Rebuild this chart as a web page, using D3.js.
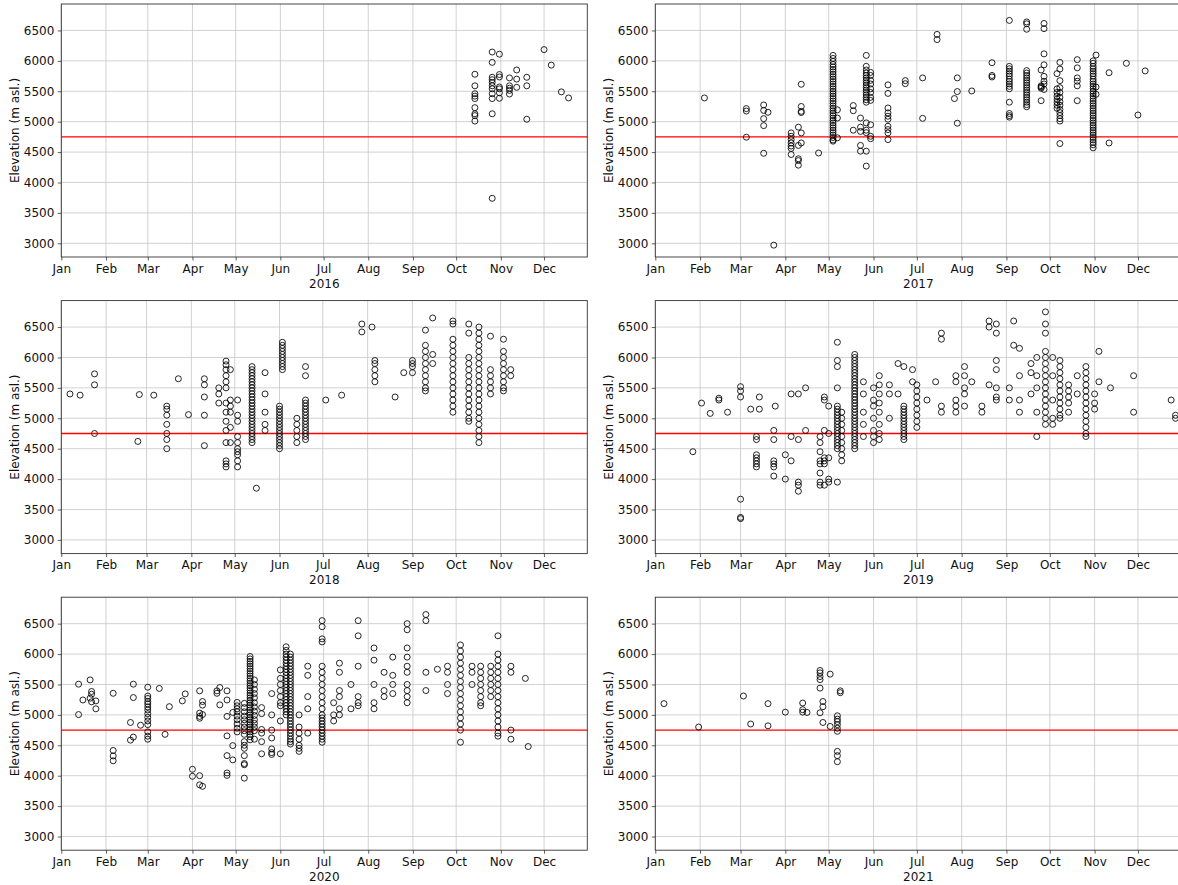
<!DOCTYPE html>
<html>
<head>
<meta charset="utf-8">
<script src="https://cdn.jsdelivr.net/npm/d3@7"></script>
<style>
  body { margin: 0; background: #fff; }
  svg { display: block; font-family: "DejaVu Sans", sans-serif; }
</style>
</head>
<body>
<div class="container"></div>
<script>
// observations per year: [month-day, [elevations in m asl.]]
const obs2016 = [
  ["10-14", [5780, 5590, 5460, 5420, 5380, 5230, 5130, 5100, 5010]],
  ["10-26", [6145, 5975, 5730, 5690, 5645, 5590, 5540, 5460, 5380, 5130, 3740]],
  ["10-31", [6110, 5775, 5735, 5570, 5540, 5475, 5385]],
  ["11-07", [5720, 5590, 5550, 5515, 5455]],
  ["11-12", [5850, 5700, 5565]],
  ["11-19", [5730, 5590, 5040]],
  ["12-01", [6185]],
  ["12-06", [5930]],
  ["12-13", [5490]],
  ["12-18", [5390]]
];

const obs2017 = [
  ["02-04", [5390]],
  ["03-05", [5215, 5175, 4745]],
  ["03-17", [5275, 5185, 5050, 4935, 4480]],
  ["03-20", [5155]],
  ["03-24", [2970]],
  ["04-05", [4815, 4760, 4705, 4650, 4600, 4560, 4460]],
  ["04-10", [4910, 4610, 4390, 4360, 4285]],
  ["04-12", [5615, 5250, 5170, 5150, 4815, 4650]],
  ["04-24", [4485]],
  ["05-04", [6090, 6040, 5990, 5940, 5900, 5860, 5820, 5780, 5740, 5700, 5660, 5620, 5580, 5540, 5500, 5460, 5420, 5380, 5340, 5300, 5260, 5220, 5180, 5140, 5100, 5060, 5020, 4980, 4940, 4900, 4860, 4820, 4780, 4740, 4700, 4680]],
  ["05-07", [5195, 5060, 4735]],
  ["05-18", [5265, 5180, 4860]],
  ["05-23", [5060, 4910, 4840, 4610, 4515]],
  ["05-27", [6090, 5910, 5850, 5800, 5760, 5720, 5680, 5640, 5600, 5560, 5520, 5480, 5440, 5400, 5360, 5320, 4980, 4860, 4820, 4515, 4270]],
  ["05-30", [5810, 5760, 5680, 5620, 5540, 5480, 5400, 5350, 4950, 4760, 4720]],
  ["06-11", [5605, 5465, 5225, 5145, 5090, 5040, 4925, 4870, 4815, 4705]],
  ["06-23", [5675, 5625]],
  ["07-05", [5720, 5055]],
  ["07-15", [6435, 6350]],
  ["07-27", [5380]],
  ["07-29", [5720, 5495, 4975]],
  ["08-08", [5505]],
  ["08-22", [5970, 5760, 5735]],
  ["09-03", [6665, 5910, 5870, 5830, 5790, 5750, 5700, 5660, 5620, 5580, 5540, 5320, 5135, 5100, 5075]],
  ["09-15", [6640, 6610, 6520, 5840, 5800, 5760, 5720, 5680, 5640, 5600, 5560, 5520, 5480, 5440, 5400, 5360, 5320, 5280, 5245]],
  ["09-25", [5850, 5590, 5570, 5550, 5345]],
  ["09-27", [6615, 6530, 6115, 5935, 5745, 5665, 5620, 5530]],
  ["10-06", [5790, 5540, 5480, 5420, 5370, 5320, 5270, 5220]],
  ["10-08", [5975, 5865, 5675, 5560, 5480, 5400, 5330, 5270, 5200, 5150, 5100, 5050, 5010, 4640]],
  ["10-20", [6020, 5885, 5720, 5665, 5590, 5345]],
  ["10-31", [6000, 5960, 5910, 5870, 5830, 5790, 5750, 5700, 5660, 5620, 5580, 5540, 5500, 5460, 5420, 5380, 5340, 5300, 5260, 5220, 5180, 5140, 5100, 5060, 5020, 4980, 4940, 4900, 4860, 4820, 4780, 4740, 4700, 4660, 4620, 4570]],
  ["11-02", [6095, 5570, 5450]],
  ["11-11", [5805, 4650]],
  ["11-23", [5960]],
  ["12-01", [5110]],
  ["12-06", [5835]]
];

const obs2018 = [
  ["01-07", [5400]],
  ["01-14", [5380]],
  ["01-24", [5730, 5550, 4750]],
  ["02-23", [4620]],
  ["02-24", [5390]],
  ["03-06", [5380]],
  ["03-15", [5200, 5150, 5050, 4900, 4750, 4650, 4500]],
  ["03-23", [5650]],
  ["03-30", [5060]],
  ["04-10", [5650, 5550, 5350, 5050, 4550]],
  ["04-20", [5500, 5400, 5250]],
  ["04-25", [5940, 5880, 5800, 5700, 5600, 5500, 5250, 5100, 4950, 4800, 4600, 4300, 4250, 4200]],
  ["04-28", [5800, 5300, 5200, 5100, 4850, 4600]],
  ["05-03", [5300, 5050, 4950, 4700, 4600, 4500, 4450, 4400, 4300, 4200]],
  ["05-13", [5850, 5800, 5750, 5700, 5650, 5600, 5550, 5500, 5450, 5400, 5350, 5300, 5250, 5200, 5150, 5100, 5050, 5000, 4950, 4900, 4850, 4800, 4750, 4700, 4650, 4600]],
  ["05-16", [3850]],
  ["05-22", [5750, 5400, 5100, 4900, 4800]],
  ["06-01", [5200, 5150, 5100, 5050, 5000, 4950, 4900, 4850, 4800, 4750, 4700, 4650, 4600, 4550, 4500]],
  ["06-03", [6250, 6200, 6150, 6100, 6050, 6000, 5950, 5900, 5850, 5800]],
  ["06-13", [5000, 4900, 4800, 4700, 4600]],
  ["06-19", [5850, 5700, 5300, 5250, 5200, 5150, 5100, 5050, 5000, 4950, 4900, 4850, 4800, 4750, 4700, 4650]],
  ["07-03", [5300]],
  ["07-14", [5380]],
  ["07-28", [6550, 6420]],
  ["08-04", [6500]],
  ["08-06", [5950, 5900, 5800, 5700, 5600]],
  ["08-20", [5350]],
  ["08-26", [5750]],
  ["09-01", [5950, 5900, 5850, 5750]],
  ["09-10", [6450, 6200, 6100, 6000, 5900, 5800, 5700, 5600, 5500, 5450]],
  ["09-15", [6650, 6050, 5900]],
  ["09-29", [6600, 6550, 6300, 6200, 6100, 6000, 5900, 5800, 5700, 5600, 5500, 5400, 5300, 5200, 5100]],
  ["10-10", [6550, 6400, 6000, 5900, 5800, 5700, 5600, 5500, 5400, 5300, 5200, 5100, 5000, 4950]],
  ["10-17", [6500, 6400, 6300, 6200, 6100, 6000, 5900, 5800, 5700, 5600, 5500, 5400, 5300, 5200, 5100, 5000, 4900, 4800, 4700, 4600]],
  ["10-25", [6350, 5800, 5700, 5600, 5500, 5400]],
  ["11-03", [6300, 6100, 6000, 5900, 5800, 5700, 5600, 5500, 5450]],
  ["11-08", [5800, 5700]]
];

const obs2019 = [
  ["01-27", [4450]],
  ["02-02", [5250]],
  ["02-08", [5080]],
  ["02-14", [5330, 5300]],
  ["02-20", [5100]],
  ["03-01", [5520, 5450, 5350, 3670, 3370, 3350]],
  ["03-08", [5150]],
  ["03-12", [4700, 4650, 4400, 4350, 4300, 4250, 4200]],
  ["03-14", [5350, 5150]],
  ["03-24", [4800, 4650, 4300, 4250, 4200, 4050]],
  ["03-25", [5200]],
  ["04-01", [4400, 4000]],
  ["04-05", [5400, 4700, 4300]],
  ["04-10", [5400, 4650, 3950, 3900, 3800]],
  ["04-15", [5500, 4800]],
  ["04-25", [4700, 4600, 4450, 4300, 4250, 4100, 3950, 3900]],
  ["04-28", [5350, 5300, 4800, 4350, 4300, 4250, 3900]],
  ["05-01", [5200, 4750, 4350, 4000, 3950]],
  ["05-07", [6250, 5950, 5850, 5500, 5200, 5150, 5100, 5050, 5000, 4950, 4900, 4850, 4800, 4750, 4700, 4650, 4600, 4550, 4500, 3950]],
  ["05-10", [5100, 5000, 4900, 4800, 4700, 4600, 4500, 4400, 4300]],
  ["05-19", [6050, 6000, 5950, 5900, 5850, 5800, 5750, 5700, 5650, 5600, 5550, 5500, 5450, 5400, 5350, 5300, 5250, 5200, 5150, 5100, 5050, 5000, 4950, 4900, 4850, 4800, 4750, 4700, 4650, 4600, 4550, 4500]],
  ["05-25", [5600, 5400, 5100, 4900, 4700]],
  ["06-01", [5500, 5300, 5200, 5000, 4800, 4700, 4600]],
  ["06-05", [5700, 5550, 5400, 5250, 5100, 4900, 4750, 4650]],
  ["06-12", [5550, 5400, 5000]],
  ["06-18", [5900, 5400]],
  ["06-22", [5850, 5200, 5150, 5100, 5050, 5000, 4950, 4900, 4850, 4800, 4750, 4700, 4650]],
  ["06-28", [5800, 5600]],
  ["07-01", [5550, 5450, 5350, 5250, 5150, 5050, 4950, 4850]],
  ["07-08", [5300]],
  ["07-14", [5600]],
  ["07-18", [6400, 6300, 5200, 5100]],
  ["07-28", [5700, 5600, 5300, 5200, 5100]],
  ["08-03", [5850, 5700, 5500, 5400, 5200]],
  ["08-08", [5600]],
  ["08-15", [5200, 5100]],
  ["08-20", [6600, 6500, 5550]],
  ["08-25", [6550, 6400, 5950, 5800, 5500, 5350, 5300]],
  ["09-03", [5500, 5300]],
  ["09-06", [6600, 6200]],
  ["09-10", [6150, 5700, 5300, 5100]],
  ["09-18", [5900, 5750, 5400]],
  ["09-22", [6000, 5700, 5500, 5100, 4700]],
  ["09-28", [6750, 6550, 6400, 6100, 6000, 5900, 5800, 5700, 5600, 5500, 5400, 5300, 5200, 5100, 5000, 4900]],
  ["10-03", [6000, 5700, 5300, 5000, 4900]],
  ["10-08", [5950, 5850, 5750, 5650, 5550, 5450, 5350, 5250, 5150, 5050, 5000]],
  ["10-14", [5550, 5450, 5350, 5250, 5100]],
  ["10-20", [5700, 5400]],
  ["10-26", [5850, 5750, 5650, 5550, 5450, 5350, 5250, 5150, 5050, 4950, 4850, 4750, 4700]],
  ["11-01", [5400, 5250, 5150]],
  ["11-04", [6100, 5600]],
  ["11-12", [5500]],
  ["11-28", [5700, 5100]],
  ["12-24", [5300]],
  ["12-27", [5050, 5000]]
];

const obs2020 = [
  ["01-13", [5505, 5005]],
  ["01-16", [5245]],
  ["01-21", [5575, 5275]],
  ["01-22", [5385, 5340, 5215]],
  ["01-25", [5230, 5100]],
  ["02-06", [5355, 4415, 4325, 4245]],
  ["02-18", [4875, 4585]],
  ["02-20", [5505, 5285, 4635]],
  ["02-25", [4830]],
  ["03-01", [5455, 5310, 5270, 5220, 5180, 5130, 5080, 5020, 4960, 4900, 4840, 4720, 4650, 4600]],
  ["03-09", [5435]],
  ["03-13", [4680]],
  ["03-16", [5135]],
  ["03-25", [5230]],
  ["03-27", [5345]],
  ["04-01", [4105, 3990]],
  ["04-06", [5395, 5030, 4975, 4945, 4000, 3850]],
  ["04-08", [5220, 5160, 5005, 3825]],
  ["04-18", [5395, 5355]],
  ["04-20", [5450, 5165]],
  ["04-25", [5395, 5245, 4975, 4655, 4330, 4045, 4005]],
  ["04-29", [5040, 4495, 4260]],
  ["05-02", [5205, 5150, 5100, 5050, 4980, 4920, 4850, 4780, 4720]],
  ["05-07", [5190, 5120, 5050, 4980, 4920, 4860, 4800, 4740, 4680, 4560, 4500, 4450, 4330, 4200, 4180, 3960]],
  ["05-11", [5960, 5920, 5880, 5840, 5800, 5760, 5720, 5680, 5640, 5600, 5560, 5520, 5480, 5440, 5400, 5360, 5320, 5280, 5240, 5200, 5160, 5120, 5080, 5040, 5000, 4960, 4920, 4880, 4840, 4800, 4760, 4720, 4680, 4640, 4590]],
  ["05-14", [5575, 5500, 5420, 5350, 5280, 5200, 5130, 5060, 4990, 4920, 4860, 4800, 4740, 4600]],
  ["05-19", [5120, 5020, 4760, 4700, 4560, 4360]],
  ["05-26", [5350, 5000, 4750, 4620, 4440, 4380, 4350]],
  ["06-01", [5740, 5600, 5500, 5400, 5300, 5200, 5150, 4900, 4360]],
  ["06-05", [6120, 6060, 6000, 5950, 5900, 5850, 5800, 5750, 5700, 5650, 5600, 5550, 5500, 5450, 5400, 5350, 5300, 5250, 5200, 5150, 5100, 5050, 5000]],
  ["06-08", [6000, 5950, 5900, 5850, 5800, 5750, 5700, 5650, 5600, 5550, 5500, 5450, 5400, 5350, 5300, 5250, 5200, 5150, 5100, 5050, 5000, 4950, 4900, 4850, 4800, 4750, 4700, 4650, 4600, 4560, 4520]],
  ["06-14", [5000, 4800, 4700, 4600, 4500, 4450, 4400]],
  ["06-20", [5800, 5650, 5300, 5100, 4700]],
  ["06-30", [6550, 6450, 6250, 6200, 5800, 5700, 5600, 5500, 5400, 5300, 5200, 5100, 5000, 4950, 4900, 4850, 4800, 4750, 4700, 4650, 4600, 4550]],
  ["07-08", [5200, 5000, 4900]],
  ["07-12", [5850, 5700, 5400, 5300, 5100, 5000]],
  ["07-20", [5500, 5100]],
  ["07-25", [6550, 6300, 5800, 5300, 5200, 5150]],
  ["08-05", [6100, 5900, 5500, 5200, 5100]],
  ["08-12", [5700, 5400, 5300]],
  ["08-18", [5950, 5650, 5500, 5350]],
  ["08-28", [6500, 6400, 6100, 5950, 5800, 5700, 5500, 5400, 5300, 5200]],
  ["09-10", [6650, 6550, 5700, 5400]],
  ["09-18", [5750]],
  ["09-25", [5800, 5700, 5500, 5350]],
  ["10-04", [6150, 6050, 5950, 5850, 5750, 5650, 5550, 5450, 5350, 5250, 5150, 5050, 4950, 4850, 4750, 4550]],
  ["10-12", [5800, 5700, 5500]],
  ["10-18", [5800, 5700, 5600, 5500, 5400, 5300, 5200, 5150]],
  ["10-25", [5800, 5700, 5600, 5500, 5400, 5300]],
  ["10-30", [6300, 6000, 5900, 5800, 5700, 5600, 5500, 5400, 5300, 5200, 5100, 5000, 4900, 4800, 4700, 4650]],
  ["11-08", [5800, 5700, 4750, 4600]],
  ["11-18", [5600]],
  ["11-20", [4480]]
];

const obs2021 = [
  ["01-07", [5185]],
  ["01-31", [4800]],
  ["03-03", [5310]],
  ["03-08", [4850]],
  ["03-20", [5185, 4820]],
  ["04-01", [5045]],
  ["04-13", [5195, 5085, 5045]],
  ["04-16", [5040]],
  ["04-25", [5730, 5690, 5630, 5580, 5440, 5035]],
  ["04-27", [5220, 5135, 4875]],
  ["05-02", [5670, 4810]],
  ["05-07", [4985, 4930, 4890, 4840, 4780, 4730, 4400, 4330, 4230]],
  ["05-09", [5395, 5365]]
];

const years = [2016, 2017, 2018, 2019, 2020, 2021];
const yearObs = [obs2016, obs2017, obs2018, obs2019, obs2020, obs2021];
const yTicks = [3000, 3500, 4000, 4500, 5000, 5500, 6000, 6500];
const yDomain = [2775, 6935];
const threshold = 4750;

const W = 1178, H = 885;
const panelW = 526, panelH = 253;
const colX = [61.3, 655.3];
const rowY = [4, 300.6, 597.2];

const svg = d3.select("div.container").append("svg")
    .attr("width", W)
    .attr("height", H);

const parse = d3.timeParse("%Y-%m-%d");
const fmt = d3.timeFormat("%b");

years.forEach((year, k) => {
    const x0 = colX[k % 2], y0 = rowY[Math.floor(k / 2)];
    const g = svg.append("g").attr("transform", `translate(${x0},${y0})`);

    const x = d3.scaleTime()
        .domain([new Date(year, 0, 1), new Date(year, 11, 31)])
        .range([0, panelW]);
    const y = d3.scaleLinear().domain(yDomain).range([panelH, 0]);
    const months = d3.range(12).map(m => new Date(year, m, 1));

    // grid
    g.append("g").selectAll("line")
        .data(months).enter().append("line")
        .attr("x1", d => x(d)).attr("x2", d => x(d))
        .attr("y1", 0).attr("y2", panelH)
        .attr("stroke", "#c6c6c6").attr("stroke-width", 0.8);
    g.append("g").selectAll("line")
        .data(yTicks).enter().append("line")
        .attr("x1", 0).attr("x2", panelW)
        .attr("y1", d => y(d)).attr("y2", d => y(d))
        .attr("stroke", "#c6c6c6").attr("stroke-width", 0.8);

    // axes
    const xAxis = g.append("g")
        .attr("transform", `translate(0,${panelH})`)
        .call(d3.axisBottom(x).tickValues(months).tickFormat(fmt).tickSize(3.5).tickPadding(3.5));
    const yAxis = g.append("g")
        .call(d3.axisLeft(y).tickValues(yTicks).tickFormat(d3.format("d")).tickSize(3.5).tickPadding(3.5));
    [xAxis, yAxis].forEach(a => {
        a.select(".domain").remove();
        a.selectAll(".tick line").attr("stroke", "#333").attr("stroke-width", 0.8);
        a.selectAll("text").attr("fill", "#111")
            .style("font-family", "DejaVu Sans").style("font-size", "12px");
    });

    // threshold line
    g.append("line")
        .attr("x1", 0).attr("x2", panelW)
        .attr("y1", y(threshold)).attr("y2", y(threshold))
        .attr("stroke", "#ff0000").attr("stroke-width", 1.3);

    // frame
    g.append("rect")
        .attr("width", panelW).attr("height", panelH)
        .attr("fill", "none").attr("stroke", "#333").attr("stroke-width", 0.9);

    // labels
    g.append("text")
        .attr("x", panelW / 2).attr("y", panelH + 30.5)
        .attr("text-anchor", "middle")
        .attr("fill", "#111")
        .style("font-size", "12px")
        .text(year);
    g.append("text")
        .attr("transform", `translate(-47,${panelH / 2}) rotate(-90)`)
        .attr("text-anchor", "middle")
        .attr("dy", "0.35em")
        .attr("fill", "#111")
        .style("font-size", "12px")
        .text("Elevation (m asl.)");

    // points
    const pts = [];
    yearObs[k].forEach(([md, els]) => {
        els.forEach(e => pts.push({ date: parse(`${year}-${md}`), elev: e }));
    });
    g.append("g").selectAll("circle")
        .data(pts).enter().append("circle")
        .attr("cx", d => x(d.date))
        .attr("cy", d => y(d.elev))
        .attr("r", 3)
        .attr("fill", "none")
        .attr("stroke", "#000")
        .attr("stroke-width", 0.85);
});
</script>
</body>
</html>
